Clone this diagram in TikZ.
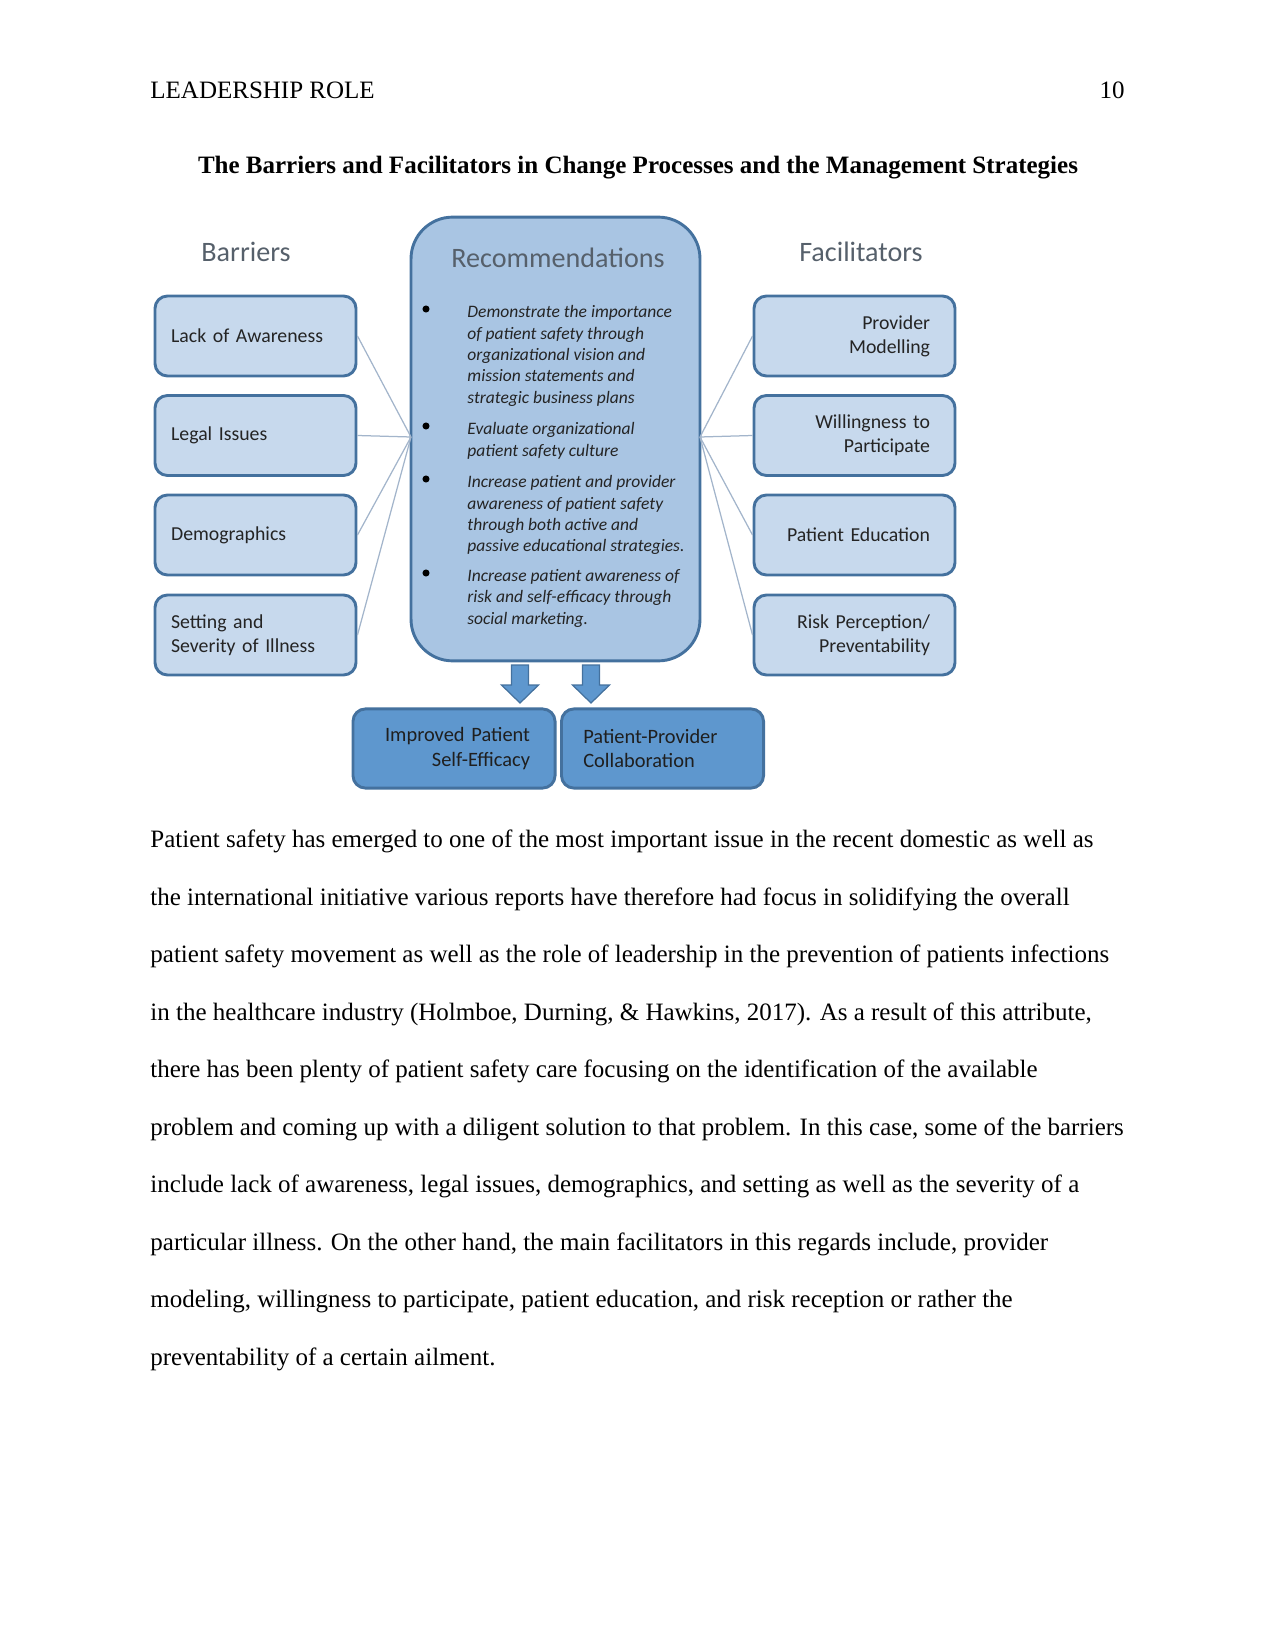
\documentclass[tikz,border=0pt]{standalone}
\usepackage{fontspec}
\setmainfont{Liberation Serif}
\newfontfamily\calib{Carlito}
\usepackage{xcolor}
\definecolor{boxfill}{HTML}{C7D9ED}
\definecolor{recfill}{HTML}{A9C5E3}
\definecolor{boxline}{HTML}{44719E}
\definecolor{darkfill}{HTML}{5E97CE}
\definecolor{linkgray}{HTML}{A3B5CB}
\definecolor{labgray}{HTML}{56606B}
\definecolor{boxtext}{HTML}{242424}

\tikzset{
  sidebox/.style={draw=boxline, fill=boxfill, line width=1.4pt, rounded corners=6pt,
    minimum width=96.5pt, minimum height=38.4pt, text=boxtext,
    font=\calib\fontsize{9.5}{11.4}\selectfont},
  barbox/.style={sidebox, align=left, inner xsep=7.7pt, text width=81pt},
  facbox/.style={sidebox, align=right, inner xsep=12pt, text width=72.5pt},
  outbox/.style={sidebox, fill=darkfill, text=black!88, minimum width=97pt, minimum height=38pt,
    font=\calib\fontsize{9.8}{11.6}\selectfont},
  link/.style={linkgray, line width=0.6pt},
  headlab/.style={text=labgray, font=\calib\fontsize{13.5}{16}\selectfont},
  rectext/.style={anchor=north west, inner sep=0pt, align=left, text=boxtext,
    font=\calib\itshape\fontsize{8.4}{10.3}\selectfont},
  dot/.style={circle, fill=black, inner sep=0pt, minimum size=3.4pt},
  blockarrow/.style={fill=darkfill, draw=boxline, line width=0.6pt},
  bodyline/.style={anchor=base west, inner sep=0pt}
}

\begin{document}
\begin{tikzpicture}[x=0.48pt, y=-0.48pt, font=\fontsize{12}{14}\selectfont]
  \useasboundingbox (0,0) rectangle (1275,1650);

  % page head and caption
  \node[anchor=base west, inner sep=0pt] (hdr) at (150,99) {LEADERSHIP ROLE};
  \node[anchor=base east, inner sep=0pt] (pgno) at (1125,99) {10};
  \node[anchor=base, inner sep=0pt, font=\fontsize{12}{14}\selectfont\bfseries] (caption) at (638,174)
    {The Barriers and Facilitators in Change Processes and the Management Strategies};

  % centre column
  \node[draw=boxline, fill=recfill, line width=1.4pt, rounded corners=20pt,
        minimum width=138.7pt, minimum height=213pt] (rec) at (555.5,439) {};
  \node[headlab] (reclab) at (558,258) {Recommendations};
  \node[headlab] (barlab) at (246,252) {Barriers};
  \node[headlab] (faclab) at (861,252) {Facilitators};

  \foreach \n/\y/\t in {1/309/{Demonstrate the importance\\of patient safety through\\organizational vision and\\mission statements and\\strategic business plans},
                        2/426/{Evaluate organizational\\patient safety culture},
                        3/479/{Increase patient and provider\\awareness of patient safety\\through both active and\\passive educational strategies.},
                        4/573/{Increase patient awareness of\\risk and self-efficacy through\\social marketing.}}{
    \node[dot] (dot\n) at (426,\y) {};
    \node[rectext] (item\n) at (467,\y-4) {\t};
  }

  \coordinate (lc) at (411,437);
  \coordinate (rc) at (700,437);

  % barriers
  \foreach \n/\y/\t in {1/336/Lack of Awareness, 2/435.5/Legal Issues, 3/535/Demographics,
                        4/635/{Setting and\\Severity of Illness}}{
    \node[barbox] (bar\n) at (255.5,\y) {\t};
    \draw[link] (bar\n.east) -- (lc);
  }

  % facilitators
  \foreach \n/\y/\t in {1/336/{Provider\\Modelling}, 2/435.5/{Willingness to\\Participate},
                        3/535/Patient Education, 4/635/{Risk Perception/\\Preventability}}{
    \node[facbox] (fac\n) at (854.5,\y) {\t};
    \draw[link] (fac\n.west) -- (rc);
  }

  % outcomes
  \coordinate (a1) at (520,665);
  \coordinate (a2) at (591,665);
  \foreach \a in {a1,a2}{
    \draw[blockarrow] (\a) ++(-8.5,0) -- ++(17,0) -- ++(0,20) -- ++(10,0) -- ++(-18.5,18)
      -- ++(-18.5,-18) -- ++(10,0) -- cycle;
  }
  \node[outbox, align=right, inner xsep=12pt, text width=73pt] (out1) at (454,748.5)
    {Improved Patient\\Self-Efficacy};
  \node[outbox, align=left, inner xsep=10.5pt, text width=76pt] (out2) at (662.5,748.5)
    {Patient-Provider\\Collaboration};

  % body text
  \foreach \n/\t in {1/{Patient safety has emerged to one of the most important issue in the recent domestic as well as},
                     2/{the international initiative various reports have therefore had focus in solidifying the overall},
                     3/{patient safety movement as well as the role of leadership in the prevention of patients infections},
                     4/{in the healthcare industry (Holmboe, Durning, \& Hawkins, 2017). As a result of this attribute,},
                     5/{there has been plenty of patient safety care focusing on the identification of the available},
                     6/{problem and coming up with a diligent solution to that problem. In this case, some of the barriers},
                     7/{include lack of awareness, legal issues, demographics, and setting as well as the severity of a},
                     8/{particular illness. On the other hand, the main facilitators in this regards include, provider},
                     9/{modeling, willingness to participate, patient education, and risk reception or rather the},
                     10/{preventability of a certain ailment.}}{
    \node[bodyline] (line\n) at (150,{847.5+57.5*(\n-1)}) {\t};
  }
\end{tikzpicture}
\end{document}
